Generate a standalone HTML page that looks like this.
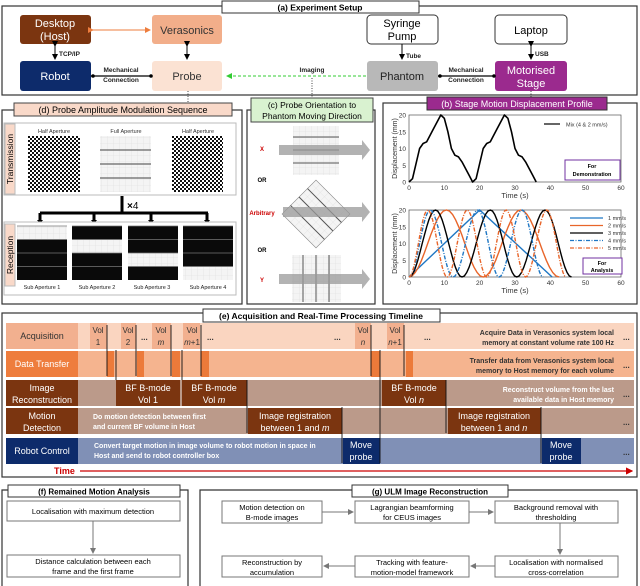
<!DOCTYPE html><html><head><meta charset="utf-8"><style>
html,body{margin:0;padding:0;background:#fff}
svg{display:block;font-family:"Liberation Sans",Arial,sans-serif}
</style></head><body>
<svg id="s" width="640" height="586" viewBox="0 0 640 586" xmlns="http://www.w3.org/2000/svg">
<defs>
<pattern id="chk" width="4" height="4" patternUnits="userSpaceOnUse"><rect width="4" height="4" fill="#fff"/><rect width="2" height="2" fill="#111"/><rect x="2" y="2" width="2" height="2" fill="#111"/></pattern>
<pattern id="grid" width="6" height="6" patternUnits="userSpaceOnUse"><rect width="6" height="6" fill="#f4f4f4"/><path d="M6 0V6M0 6H6" stroke="#ddd" stroke-width="0.6"/></pattern>
<marker id="ab" markerWidth="6" markerHeight="6" refX="5" refY="3" orient="auto"><path d="M0,0L6,3L0,6z" fill="#000"/></marker>
<marker id="ag" markerWidth="6" markerHeight="6" refX="5" refY="3" orient="auto"><path d="M0,0L6,3L0,6z" fill="#777"/></marker>
<marker id="aor" markerWidth="6" markerHeight="6" refX="5" refY="3" orient="auto"><path d="M0,0L6,3L0,6z" fill="#ee7d3d"/></marker>
<marker id="agr" markerWidth="6" markerHeight="6" refX="5" refY="3" orient="auto"><path d="M0,0L6,3L0,6z" fill="#3c3"/></marker>
<marker id="ar" markerWidth="6" markerHeight="6" refX="5" refY="3" orient="auto"><path d="M0,0L6,3L0,6z" fill="#c00"/></marker>
</defs>

<!-- (a) -->
<rect x="2" y="6" width="635" height="89" fill="none" stroke="#333" stroke-width="1.2"/>
<rect x="222" y="1" width="197" height="12" fill="#fff" stroke="#333"/>
<text x="320" y="10.5" font-size="8.5" font-weight="bold" text-anchor="middle">(a) Experiment Setup</text>
<g font-size="11" text-anchor="middle">
<rect x="20" y="15" width="71" height="29" rx="3" fill="#7b3510"/><text x="55" y="27" fill="#fff">Desktop</text><text x="55" y="40" fill="#fff">(Host)</text>
<rect x="152" y="15" width="70" height="29" rx="3" fill="#f2ae8a"/><text x="187" y="34" fill="#333">Verasonics</text>
<rect x="20" y="61" width="71" height="30" rx="3" fill="#0d2b6b"/><text x="55" y="80" fill="#fff">Robot</text>
<rect x="152" y="61" width="70" height="30" rx="3" fill="#fbe2d3"/><text x="187" y="80" fill="#333">Probe</text>
<rect x="367" y="15" width="71" height="29" rx="4" fill="#fff" stroke="#333"/><text x="402" y="27">Syringe</text><text x="402" y="40">Pump</text>
<rect x="495" y="15" width="72" height="29" rx="4" fill="#fff" stroke="#333"/><text x="531" y="34">Laptop</text>
<rect x="367" y="61" width="71" height="30" rx="3" fill="#b8b8b8"/><text x="402" y="80" fill="#222">Phantom</text>
<rect x="495" y="61" width="72" height="30" rx="3" fill="#9b2a8e"/><text x="531" y="74" fill="#fff">Motorised</text><text x="531" y="87" fill="#fff">Stage</text>
</g>
<line x1="93" y1="30" x2="150" y2="30" stroke="#ee7d3d" marker-end="url(#aor)" marker-start="url(#aor)"/>
<line x1="55" y1="46" x2="55" y2="59" stroke="#000" marker-end="url(#ab)" marker-start="url(#ab)"/>
<line x1="187" y1="46" x2="187" y2="59" stroke="#000" marker-end="url(#ab)" marker-start="url(#ab)"/>
<line x1="402" y1="44" x2="402" y2="59" stroke="#000" marker-end="url(#ab)"/>
<line x1="531" y1="46" x2="531" y2="59" stroke="#000" marker-end="url(#ab)" marker-start="url(#ab)"/>
<line x1="91" y1="76" x2="152" y2="76" stroke="#000" stroke-width="1.2"/><circle cx="93" cy="76" r="1.8"/><circle cx="151" cy="76" r="1.8"/>
<line x1="438" y1="76" x2="495" y2="76" stroke="#000" stroke-width="1.2"/><circle cx="440" cy="76" r="1.8"/><circle cx="494" cy="76" r="1.8"/>
<line x1="366" y1="76" x2="227" y2="76" stroke="#3c3" stroke-dasharray="3,2" marker-end="url(#agr)"/>
<g font-size="6.5" font-weight="bold" fill="#222">
<text x="59" y="56">TCP/IP</text><text x="406" y="58">Tube</text><text x="535" y="56">USB</text>
<text x="121" y="72" text-anchor="middle">Mechanical</text><text x="121" y="82" text-anchor="middle">Connection</text>
<text x="466" y="72" text-anchor="middle">Mechanical</text><text x="466" y="82" text-anchor="middle">Connection</text>
<text x="312" y="72" text-anchor="middle">Imaging</text>
</g>
<g stroke="#444" stroke-dasharray="1,1.5" fill="none"><path d="M188 91V103"/><path d="M312 78V98"/><path d="M531 91V97"/></g>

<!-- (d) -->
<rect x="2" y="110" width="240" height="194" fill="none" stroke="#333" stroke-width="1.2"/>
<rect x="14" y="103" width="218" height="13" fill="#f9d9c9" stroke="#444"/>
<text x="123" y="113" font-size="9" text-anchor="middle">(d) Probe Amplitude Modulation Sequence</text>
<rect x="4" y="123" width="232" height="72" fill="#fff" stroke="#bbb"/>
<rect x="5" y="124" width="10" height="70" fill="#f9d9c9" stroke="#bbb"/>
<text transform="translate(13,159) rotate(-90)" font-size="8.5" text-anchor="middle">Transmission</text>
<g font-size="5.5" text-anchor="middle" fill="#333"><text x="54" y="133">Half Aperture</text><text x="126" y="133">Full Aperture</text><text x="198" y="133">Half Aperture</text></g>
<rect x="28" y="136" width="52" height="56" fill="url(#chk)"/>
<rect x="100" y="136" width="51" height="56" fill="url(#grid)"/>
<g stroke="#666" stroke-width="1.3"><path d="M100 150H151M100 164H151M100 178H151"/></g>
<rect x="172" y="136" width="51" height="56" fill="url(#chk)"/>
<g stroke="#000" stroke-width="3" fill="none"><path d="M122 196V213M40 213H208M40 213V221M94 213V221M151 213V221M207 213V221"/></g>
<g fill="#000"><path d="M37 220h6l-3 4z"/><path d="M91 220h6l-3 4z"/><path d="M148 220h6l-3 4z"/><path d="M204 220h6l-3 4z"/></g>
<text x="127" y="209" font-size="10" font-weight="bold">×<tspan font-weight="normal">4</tspan></text>
<rect x="4" y="222" width="232" height="73" fill="#fff" stroke="#bbb"/>
<rect x="5" y="224" width="10" height="62" fill="#f9d9c9" stroke="#bbb"/>
<text transform="translate(13,255) rotate(-90)" font-size="8.5" text-anchor="middle">Reception</text>
<g id="subs"></g>
<g font-size="5.5" text-anchor="middle" fill="#222"><text x="42" y="289">Sub Aperture 1</text><text x="97" y="289">Sub Aperture 2</text><text x="152" y="289">Sub Aperture 3</text><text x="208" y="289">Sub Aperture 4</text></g>

<!-- (c) -->
<rect x="247" y="110" width="128" height="194" fill="none" stroke="#333" stroke-width="1.2"/>
<rect x="251" y="98" width="122" height="24" fill="#d9f2d0" stroke="#444"/>
<text x="312" y="108" font-size="8.5" text-anchor="middle">(c) Probe Orientation to</text>
<text x="312" y="119" font-size="8.5" text-anchor="middle">Phantom Moving Direction</text>
<rect x="293" y="126" width="46" height="49" fill="url(#grid)"/>
<g stroke="#555" stroke-width="1"><path d="M293 137H339M293 150H339M293 163H339"/></g>
<g transform="translate(316,214) rotate(45)"><rect x="-24" y="-24" width="48" height="48" fill="url(#grid)" stroke="#888" stroke-width="0.6"/><path d="M-24 -12H24M-24 0H24M-24 12H24" stroke="#555" stroke-width="1"/></g>
<rect x="292" y="255" width="49" height="47" fill="url(#grid)"/>
<g stroke="#555" stroke-width="1"><path d="M303 255V302M316 255V302M329 255V302"/></g>
<g fill="#999" opacity="0.75">
<path d="M279 145H362V140L370 150L362 160V155H279Z"/>
<path d="M283 207H362V202L370 212L362 222V217H283Z"/>
<path d="M279 274H362V269L370 279L362 289V284H279Z"/>
</g>
<g font-size="6" font-weight="bold" text-anchor="middle"><text x="262" y="151" fill="#c00">X</text><text x="262" y="182">OR</text><text x="262" y="215" fill="#c00">Arbitrary</text><text x="262" y="252">OR</text><text x="262" y="282" fill="#c00">Y</text></g>

<!-- (b) -->
<rect x="383" y="103" width="254" height="201" fill="none" stroke="#333" stroke-width="1.2"/>
<rect x="427" y="97" width="180" height="13" fill="#9b2a8e" stroke="#333"/>
<text x="517" y="107" font-size="9" fill="#fff" text-anchor="middle">(b) Stage Motion Displacement Profile</text>
<g id="plots"></g>

<!-- (e) -->
<rect x="2" y="313" width="635" height="164" fill="none" stroke="#333" stroke-width="1.2"/>
<rect x="203" y="309" width="237" height="13" fill="#fff" stroke="#333"/>
<text x="321" y="319" font-size="8.5" font-weight="bold" text-anchor="middle">(e) Acquisition and Real-Time Processing Timeline</text>
<rect x="6" y="323" width="628" height="26" fill="#fad5c0"/><rect x="6" y="323" width="72" height="26" fill="#f2b08f"/>
<rect x="6" y="351" width="628" height="26" fill="#f5b48f"/><rect x="6" y="351" width="72" height="26" fill="#ee7d3d"/>
<rect x="6" y="380" width="628" height="26" fill="#bb9a8a"/><rect x="6" y="380" width="72" height="26" fill="#7b3510"/>
<rect x="6" y="408" width="628" height="26" fill="#bb9a8a"/><rect x="6" y="408" width="72" height="26" fill="#7b3510"/>
<rect x="6" y="438" width="628" height="26" fill="#8090b6"/><rect x="6" y="438" width="72" height="26" fill="#0d2b6b"/>
<g fill="#f2b08f"><rect x="90" y="323" width="17" height="26"/><rect x="121" y="323" width="15" height="26"/><rect x="152" y="323" width="19" height="26"/><rect x="183" y="323" width="17" height="26"/><rect x="355" y="323" width="16" height="26"/><rect x="387" y="323" width="17" height="26"/></g>
<g fill="#ec7a3a"><rect x="107" y="351" width="7" height="26"/><rect x="137" y="351" width="7" height="26"/><rect x="172" y="351" width="8" height="26"/><rect x="201" y="351" width="8" height="26"/><rect x="371" y="351" width="9" height="26"/><rect x="406" y="351" width="7" height="26"/></g>
<g fill="#7b3510"><rect x="116" y="380" width="64" height="26"/><rect x="182" y="380" width="65" height="26"/><rect x="382" y="380" width="64" height="26"/><rect x="248" y="408" width="94" height="26"/><rect x="448" y="408" width="93" height="26"/></g>
<g fill="#0d2b6b"><rect x="343" y="438" width="37" height="26"/><rect x="542" y="438" width="39" height="26"/></g>
<g stroke="#111" stroke-width="0.9">
<path d="M107 325V376M136 325V376M171 325V376M201 325V376M371 325V376M404 325V376"/>
<path d="M116 350V380M182 350V380M247 380V433M446 380V433M342 407V463M380 350V463M541 407V463"/>
</g>
<g font-size="9" text-anchor="middle" fill="#fff">
<text x="42" y="339" fill="#333">Acquisition</text>
<text x="42" y="367" fill="#fff">Data Transfer</text>
<text x="42" y="391">Image</text><text x="42" y="403">Reconstruction</text>
<text x="42" y="419">Motion</text><text x="42" y="431">Detection</text>
<text x="42" y="454">Robot Control</text>
<text x="148" y="391">BF B-mode</text><text x="148" y="403">Vol 1</text>
<text x="214" y="391">BF B-mode</text><text x="214" y="403">Vol <tspan font-style="italic">m</tspan></text>
<text x="414" y="391">BF B-mode</text><text x="414" y="403">Vol <tspan font-style="italic">n</tspan></text>
<text x="295" y="419">Image registration</text><text x="295" y="431">between 1 and <tspan font-style="italic">m</tspan></text>
<text x="494" y="419">Image registration</text><text x="494" y="431">between 1 and <tspan font-style="italic">n</tspan></text>
<text x="361" y="448">Move</text><text x="361" y="460">probe</text>
<text x="561" y="448">Move</text><text x="561" y="460">probe</text>
</g>
<g font-size="8" text-anchor="middle" fill="#333">
<text x="98" y="333">Vol</text><text x="98" y="345">1</text>
<text x="128" y="333">Vol</text><text x="128" y="345">2</text>
<text x="161" y="333">Vol</text><text x="161" y="345" font-style="italic">m</text>
<text x="192" y="333">Vol</text><text x="192" y="345"><tspan font-style="italic">m</tspan>+1</text>
<text x="363" y="333">Vol</text><text x="363" y="345" font-style="italic">n</text>
<text x="395" y="333">Vol</text><text x="395" y="345"><tspan font-style="italic">n</tspan>+1</text>
</g>
<g font-size="8" font-weight="bold" fill="#333"><text x="141" y="340">...</text><text x="207" y="340">...</text><text x="334" y="340">...</text><text x="424" y="340">...</text>
<text x="623" y="340">...</text><text x="623" y="368">...</text><text x="623" y="397">...</text><text x="623" y="425">...</text><text x="623" y="455">...</text></g>
<g font-size="7" font-weight="bold" text-anchor="end">
<text x="614" y="335" fill="#333">Acquire Data in Verasonics system local</text><text x="614" y="345" fill="#333">memory at constant volume rate 100 Hz</text>
<text x="614" y="363" fill="#333">Transfer data from Verasonics system local</text><text x="614" y="373" fill="#333">memory to Host memory for each volume</text>
<text x="614" y="392" fill="#fff">Reconstruct volume from the last</text><text x="614" y="402" fill="#fff">available data in Host memory</text>
</g>
<g font-size="7" font-weight="bold" fill="#fff">
<text x="93" y="419">Do motion detection between first</text><text x="93" y="429">and current BF volume in Host</text>
<text x="94" y="448">Convert target motion in image volume to robot motion in space in</text><text x="94" y="458">Host and send to robot controller box</text>
</g>
<text x="54" y="474" font-size="9" font-weight="bold" fill="#c00">Time</text>
<line x1="80" y1="471" x2="632" y2="471" stroke="#c00" stroke-width="1.2" marker-end="url(#ar)"/>

<!-- (f) -->
<path d="M2 586V490H8M180 490H188V586" fill="none" stroke="#333" stroke-width="1.2"/>
<rect x="8" y="485" width="172" height="12" fill="#fff" stroke="#333"/>
<text x="94" y="494.5" font-size="8" font-weight="bold" text-anchor="middle">(f) Remained Motion Analysis</text>
<rect x="7" y="501" width="173" height="20" fill="#fff" stroke="#777"/>
<text x="93" y="514" font-size="7.5" text-anchor="middle">Localisation with maximum detection</text>
<line x1="93" y1="521" x2="93" y2="553" stroke="#777" marker-end="url(#ag)"/>
<rect x="7" y="555" width="173" height="22" fill="#fff" stroke="#777"/>
<text x="93" y="564" font-size="7.5" text-anchor="middle">Distance calculation between each</text><text x="93" y="574" font-size="7.5" text-anchor="middle">frame and the first frame</text>

<!-- (g) -->
<path d="M200 586V490H352M508 490H637V586" fill="none" stroke="#333" stroke-width="1.2"/>
<rect x="352" y="485" width="156" height="12" fill="#fff" stroke="#333"/>
<text x="430" y="494.5" font-size="8" font-weight="bold" text-anchor="middle">(g) ULM Image Reconstruction</text>
<g fill="#fff" stroke="#777"><rect x="222" y="501" width="100" height="22"/><rect x="355" y="501" width="114" height="22"/><rect x="495" y="501" width="123" height="22"/><rect x="222" y="556" width="100" height="21"/><rect x="355" y="556" width="114" height="21"/><rect x="495" y="556" width="123" height="21"/></g>
<g font-size="7.5" text-anchor="middle">
<text x="272" y="510">Motion detection on</text><text x="272" y="520">B-mode images</text>
<text x="412" y="510">Lagrangian beamforming</text><text x="412" y="520">for CEUS images</text>
<text x="556" y="510">Background removal with</text><text x="556" y="520">thresholding</text>
<text x="272" y="565">Reconstruction by</text><text x="272" y="575">accumulation</text>
<text x="412" y="565">Tracking with feature-</text><text x="412" y="575">motion-model framework</text>
<text x="556" y="565">Localisation with normalised</text><text x="556" y="575">cross-correlation</text>
</g>
<g stroke="#777" fill="none"><path d="M322 512H353" marker-end="url(#ag)"/><path d="M469 512H493" marker-end="url(#ag)"/><path d="M560 523V554" marker-end="url(#ag)"/><path d="M495 566H471" marker-end="url(#ag)"/><path d="M355 566H324" marker-end="url(#ag)"/></g>
</svg>
<script>
var NS="http://www.w3.org/2000/svg";
function el(p,t,a,txt){var e=document.createElementNS(NS,t);for(var k in a)e.setAttribute(k,a[k]);if(txt!=null)e.textContent=txt;p.appendChild(e);return e;}
var sg=document.getElementById("subs");var xs=[17,72,128,183];
xs.forEach(function(x,i){for(var b=0;b<4;b++){var y=226+b*13.5;el(sg,"rect",{x:x,y:y,width:50,height:13.5,fill:b==i?"url(#grid)":"#0a0a0a"});el(sg,"line",{x1:x,x2:x+50,y1:y,y2:y,stroke:"#777","stroke-width":"0.8"});}});
var pg=document.getElementById("plots");
function axes(y0,y1){
 var X0=409,X1=621;
 el(pg,"rect",{x:X0,y:y1,width:X1-X0,height:y0-y1,fill:"#fff",stroke:"#555","stroke-width":"0.7"});
 for(var t=0;t<=60;t+=10){var x=X0+t*3.533;el(pg,"text",{x:x,y:y0+8,"font-size":"6.5","text-anchor":"middle",fill:"#333"},""+t);}
 for(var d=0;d<=20;d+=5){var y=y0-d*3.35;el(pg,"text",{x:X0-3,y:y+2.5,"font-size":"6.5","text-anchor":"end",fill:"#333"},""+d);}
 el(pg,"text",{x:515,y:y0+16,"font-size":"7.5","text-anchor":"middle",fill:"#333"},"Time (s)");
 el(pg,"text",{transform:"translate(397,"+((y0+y1)/2)+") rotate(-90)","font-size":"7","text-anchor":"middle",fill:"#333"},"Displacement (mm)");
}
axes(182,115);axes(277,210);
function P(y0,pts){return pts.map(function(p,i){return(i?"L":"M")+(409+p[0]*3.533).toFixed(1)+" "+(y0-p[1]*3.35).toFixed(1);}).join("");}
function cosi(ex){var pts=[];for(var i=0;i<ex.length-1;i++){var a=ex[i],b=ex[i+1];for(var k=0;k<=12;k++){var f=k/12,s=(1-Math.cos(Math.PI*f))/2;pts.push([a[0]+(b[0]-a[0])*f,a[1]+(b[1]-a[1])*s]);}}return pts;}
var mix=[[0,0],[1,1],[3,10],[4,11.5],[5,12],[7,16],[9,20],[10,19],[11,15],[12,10],[13,8],[14,7.5],[15,6],[17,2],[18,0],[19,1],[21,10],[22,11.5],[23,12],[25,16],[27,20],[28,19],[29,15],[30,10],[31,8],[32,7.5],[33,6],[35,2],[36,0]];
el(pg,"path",{d:P(182,mix),fill:"none",stroke:"#000","stroke-width":"1.6","stroke-linejoin":"round"});
el(pg,"line",{x1:544,x2:560,y1:124,y2:124,stroke:"#000","stroke-width":"1.2"});
el(pg,"text",{x:566,y:126.5,"font-size":"5.5",fill:"#333"},"Mix (4 & 2 mm/s)");
el(pg,"rect",{x:565,y:160,width:55,height:20,fill:"#fff",stroke:"#7030a0","stroke-width":"1"});
el(pg,"text",{x:592,y:168,"font-size":"5.5","font-weight":"bold","text-anchor":"middle"},"For");
el(pg,"text",{x:592,y:176,"font-size":"5.5","font-weight":"bold","text-anchor":"middle"},"Demonstration");
var B="#1f77c4",O="#e8652a";
var cs=[
 {c:B,da:null,p:[[0,0],[20,20],[40.5,0]]},
 {c:O,da:null,p:cosi([[0,0],[10.6,20],[21,0],[31.6,20],[42.5,0]])},
 {c:"#000",da:null,p:cosi([[0,0],[7.5,20],[15,0],[23,20],[30.5,0],[38.5,20],[46,0]])},
 {c:B,da:"4,1.5,1,1.5",p:cosi([[0,0],[6,20],[12.5,0],[19.5,20],[25.5,0],[32,20],[38,0]])},
 {c:O,da:"4,1.5,1,1.5",p:cosi([[0,0],[5.3,20],[10.8,0],[16.5,20],[22,0],[27.5,20],[33,0],[39,20],[44.5,0]])}];
var labs=["1 mm/s","2 mm/s","3 mm/s","4 mm/s","5 mm/s"];
cs.forEach(function(c,i){var a={d:P(277,c.p),fill:"none",stroke:c.c,"stroke-width":"1.4"};if(c.da)a["stroke-dasharray"]=c.da;el(pg,"path",a);
 var y=218+i*7.5;var b={x1:570,x2:603,y1:y,y2:y,stroke:c.c,"stroke-width":"1.2"};if(c.da)b["stroke-dasharray"]=c.da;el(pg,"line",b);
 el(pg,"text",{x:608,y:y+2,"font-size":"5.5",fill:"#333"},labs[i]);});
el(pg,"rect",{x:583,y:258,width:39,height:16,fill:"#fff",stroke:"#7030a0","stroke-width":"1"});
el(pg,"text",{x:602,y:265,"font-size":"5.5","font-weight":"bold","text-anchor":"middle"},"For");
el(pg,"text",{x:602,y:272,"font-size":"5.5","font-weight":"bold","text-anchor":"middle"},"Analysis");
</script>
</body></html>
